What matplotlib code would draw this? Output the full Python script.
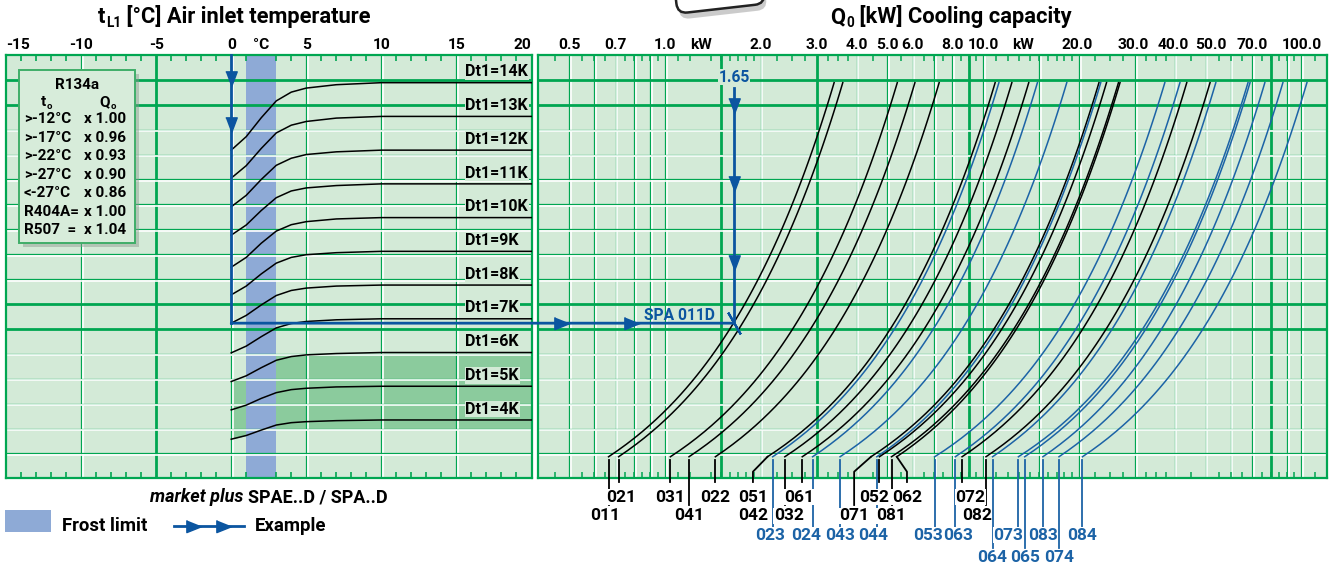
import logging
import numpy as np
import matplotlib
matplotlib.use('Agg')
import matplotlib.pyplot as plt
import matplotlib.transforms as mtransforms
from matplotlib import font_manager as fm
from matplotlib.font_manager import FontProperties
from matplotlib.textpath import TextPath
from matplotlib.text import Annotation
from matplotlib.lines import Line2D
from matplotlib.path import Path
from matplotlib.patches import Rectangle, FancyBboxPatch, ConnectionPatch
from matplotlib.ticker import FixedLocator, NullFormatter

logging.getLogger('matplotlib.font_manager').setLevel(logging.ERROR)

# air inlet side: Dt1 curves, value on the shared Dt1 scale [K]
t_air = [0, 1, 2, 3, 4, 5, 7, 10, 20]
dt1_levels = [14, 13, 12, 11, 10, 9, 8, 7, 6, 5, 4]
dt1_curves = [
    [12.00, 12.40, 12.96, 13.46, 13.72, 13.84, 13.94, 14.00, 14.00],
    [11.17, 11.54, 12.05, 12.51, 12.74, 12.85, 12.95, 13.00, 13.00],
    [10.32, 10.66, 11.13, 11.55, 11.76, 11.87, 11.95, 12.00, 12.00],
    [9.48, 9.78, 10.21, 10.59, 10.79, 10.88, 10.95, 11.00, 11.00],
    [8.53, 8.82, 9.24, 9.60, 9.79, 9.88, 9.96, 10.00, 10.00],
    [7.71, 7.97, 8.33, 8.65, 8.82, 8.90, 8.96, 9.00, 9.00],
    [6.87, 7.10, 7.41, 7.69, 7.84, 7.91, 7.97, 8.00, 8.00],
    [5.99, 6.19, 6.47, 6.73, 6.86, 6.92, 6.97, 7.00, 7.00],
    [5.14, 5.31, 5.55, 5.77, 5.88, 5.93, 5.97, 6.00, 6.00],
    [4.30, 4.44, 4.64, 4.81, 4.90, 4.94, 4.98, 5.00, 5.00],
    [3.43, 3.54, 3.70, 3.85, 3.92, 3.95, 3.98, 4.00, 4.00],
]
frost_limit = [1, 3]

# correction table (R134a)
to_rows = ['>-12°C', '>-17°C', '>-22°C', '>-27°C', '<-27°C', 'R404A=', 'R507  =']
qo_factor = ['x 1.00', 'x 0.96', 'x 0.93', 'x 0.90', 'x 0.86', 'x 1.00', 'x 1.04']

# cooling capacity lines, kW at the foot and at the head of each line
models = ['011', '021', '031', '041', '022', '051', '023', '032', '061', '024',
          '043', '071', '044', '052', '081', '062', '053', '063', '072', '082',
          '064', '073', '065', '083', '074', '084']
q_low = [0.665, 0.715, 1.04, 1.19, 1.44, 2.10, 2.18, 2.38, 2.70, 2.91,
         3.55, 4.44, 4.63, 4.72, 5.15, 5.35, 7.04, 8.17, 8.58, 10.2,
         10.7, 12.9, 13.5, 15.4, 17.3, 20.5]
q_high = [3.40, 3.62, 5.37, 6.10, 7.27, 10.9, 11.2, 12.3, 13.9, 14.8,
          18.3, 23.1, 23.4, 24.4, 26.6, 26.9, 37.2, 41.5, 43.6, 51.6,
          53.8, 67.9, 68.9, 76.7, 87.4, 104.0]
dt1_span = [2.91, 14.0]

# worked example
ex_t = 0
ex_dt1 = 8
ex_q = 1.65
ex_model = 'SPA 011D'

# ---- fonts: pick the narrowest bold face that is installed ---------------
def ink_width(s, fp, size=10):
    return TextPath((0, 0), s, size=size, prop=fp).get_extents().width * 100 / 72


names = {f.name for f in fm.fontManager.ttflist}
cands = [('Liberation Sans Narrow', 'normal'), ('DejaVu Sans', 'condensed'),
         ('Noto Sans', 'condensed'), ('Noto Sans', 'semi-condensed'),
         ('Open Sans', 'condensed'), ('Roboto', 'condensed'),
         ('Liberation Sans', 'normal'), ('Roboto', 'normal'), ('DejaVu Sans', 'normal')]
best = None
for fam, st in cands:
    if fam not in names:
        continue
    fp = FontProperties(family=fam, weight='bold', stretch=st)
    w = ink_width('Dt1=14K 100.0 Air inlet', fp)
    if best is None or w < best[0] - 0.5:
        best = (w, fam, st)
FAM, STRETCH = best[1], best[2]
plt.rcParams['font.family'] = [FAM, 'DejaVu Sans']
plt.rcParams['font.stretch'] = STRETCH
plt.rcParams['font.weight'] = 'bold'
FP = FontProperties(family=FAM, weight='bold', stretch=STRETCH)


def fit(s, px, cap):
    return min(cap, 10 * px / ink_width(s, FP))


TICK = fit('100.0', 38, 13.5)
DTL = fit('Dt1=14K', 62, 13)
LEAD = fit('021', 26, 14)
TITLE = fit('Air inlet temperature', 203, 16)
BOX = fit('>-12°C', 46, 11)
LEG = fit('Frost limit', 84, 14)
MARK = fit('market plus SPAE..D / SPA..D', 239, 14)
EXS = fit('SPA 011D', 70, 13.5)

# ---- layout ------------------------------------------------------------
W, H = 1335, 564
BG = '#d3ead7'
GREEN = '#00a651'
DARK_FILL = '#8bcb9d'
FROST = '#8eaad6'
BLUE = '#0b55a0'
CURVE_BLUE = '#1c63a6'


def fx(px):
    return px / W


def fy(py):
    return 1 - py / H


def u_of(py):
    # image row -> Dt1 scale
    return (554.9 - py) / 33.73


U_MIN, U_MAX = u_of(478.3), u_of(55)
du = (U_MAX - U_MIN) / 17

fig = plt.figure(figsize=(W / 100, H / 100), dpi=100)
axL = fig.add_axes([fx(6), fy(478.3), fx(531.5) - fx(6), fy(55) - fy(478.3)])
axR = fig.add_axes([fx(538.3), fy(478.3), fx(1326.7) - fx(538.3), fy(55) - fy(478.3)])
axR.set_xscale('log')

for ax in (axL, axR):
    ax.set_facecolor(BG)
    ax.set_yticks([])
    for s in ax.spines.values():
        s.set_color(GREEN)
        s.set_linewidth(1.6)
axL.set_xlim(-15, 20)
axR.set_xlim(0.4, 120)
axL.set_ylim(U_MIN, U_MAX)
axR.set_ylim(U_MIN, U_MAX)


def draw_grid(ax, xs, thick_x):
    tv = ax.get_xaxis_transform()
    th = ax.get_yaxis_transform()
    wv = mtransforms.offset_copy(tv, fig=fig, x=1.6, y=0, units='dots')
    wh = mtransforms.offset_copy(th, fig=fig, x=0, y=-1.6, units='dots')
    for x in xs:
        if x in thick_x:
            ax.add_artist(Line2D([x, x], [0, 1], transform=tv, color=GREEN, lw=2.0, zorder=1))
        else:
            ax.add_artist(Line2D([x, x], [0, 1], transform=tv, color=GREEN, lw=0.9, zorder=1))
            ax.add_artist(Line2D([x, x], [0, 1], transform=wv, color='white', lw=1.2, zorder=1))
    for k in range(1, 17):
        y = U_MIN + k * du
        if k in (6, 7, 15, 16):
            ax.add_artist(Line2D([0, 1], [y, y], transform=th, color=GREEN, lw=2.0, zorder=1))
        else:
            ax.add_artist(Line2D([0, 1], [y, y], transform=th, color=GREEN, lw=0.9, zorder=1))
            ax.add_artist(Line2D([0, 1], [y, y], transform=wh, color='white', lw=1.2, zorder=1))


def sub_text(x, y, main, sub, rest, size, **kw):
    # text with a lowered subscript, built from chained figure-level pieces
    a = fig.text(x, y, main, ha='left', va='baseline', fontsize=size, **kw)
    b = Annotation(sub, xy=(1, 0), xycoords=a, xytext=(0.6, -0.1 * size),
                   textcoords='offset points', ha='left', va='bottom',
                   fontsize=size * 0.62, annotation_clip=False, **kw)
    fig.add_artist(b)
    if rest:
        fig.add_artist(Annotation(rest, xy=(1, 0), xycoords=(b, a), xytext=(0, 0),
                                  textcoords='offset points', ha='left', va='bottom',
                                  fontsize=size, annotation_clip=False, **kw))


# ---- left panel ----------------------------------------------------------
axL.axvspan(frost_limit[0], frost_limit[1], color=FROST, lw=0, zorder=0.6)
axL.fill_between([frost_limit[1], 20], U_MIN + 2 * du, U_MIN + 5 * du,
                 color=DARK_FILL, lw=0, zorder=0.5)
axL.fill_between(t_air[:2], dt1_curves[-1][:2], U_MIN + 4 * du,
                 color=DARK_FILL, lw=0, zorder=0.5)
draw_grid(axL, [-10, -5, 0, 5, 10, 15], [-5])

for lvl, row in zip(dt1_levels, dt1_curves):
    axL.plot(t_air, row, color='black', lw=1.1, zorder=3)
    axL.text(15.6, lvl + 0.32, f'Dt1={lvl}K', ha='left', va='center', fontsize=DTL,
             zorder=4, bbox=dict(fc=BG, ec='none', pad=0.6))

axL.set_xticks([-15, -10, -5, 0, 2, 5, 10, 15, 20],
               ['-15', '-10', '-5', '0', '°C', '5', '10', '15', '20'])
axL.xaxis.set_minor_locator(FixedLocator(np.arange(-15, 21)))
axL.tick_params(which='major', length=0, top=True, bottom=False,
                labeltop=True, labelbottom=False, labelsize=TICK, pad=2)
axL.tick_params(which='minor', direction='in', length=4, width=1.2, color=GREEN,
                top=True, bottom=True)
ticks = axL.xaxis.get_major_ticks()
ticks[0].label2.set_horizontalalignment('left')
ticks[-1].label2.set_horizontalalignment('right')

# ---- right panel ---------------------------------------------------------
q_grid = [0.5, 0.6, 0.7, 0.8, 0.9, 1, 1.5, 2, 3, 4, 5, 6, 7, 8, 9, 10,
          15, 20, 30, 40, 50, 60, 70, 80, 90, 100]
draw_grid(axR, q_grid, [1.5, 3, 9, 80])

label_row = dict(zip(models, [2, 1, 1, 2, 1, 1, 3, 2, 1, 3, 3, 2, 3, 1, 2, 1,
                              3, 3, 1, 2, 4, 3, 4, 3, 4, 3]))
leader_foot = {'051': 1.89, '071': 3.93, '062': 5.76}
label_nudge = {'011': -3, '021': 3, '032': 4, '061': -3, '023': -3, '024': -6,
               '052': -5, '044': -4, '053': -7, '063': 3, '072': 8, '082': -9,
               '073': -10}
row_end = {1: u_of(482), 2: u_of(505), 3: u_of(527), 4: u_of(548)}
row_text = {1: u_of(497), 2: u_of(516), 3: u_of(535), 4: u_of(557)}


def put_label(q, row, text, colour, nudge):
    tr = mtransforms.offset_copy(axR.transData, fig=fig, x=nudge, y=0, units='dots')
    axR.text(q, row_text[row], text, transform=tr, ha='center', va='center',
             fontsize=LEAD, color=colour, zorder=6, clip_on=False,
             bbox=dict(fc='white', ec='none', pad=0.4))


for name, lo, hi in zip(models, q_low, q_high):
    colour = 'black' if name[-1] in '12' else CURVE_BLUE
    seg = Path([(lo, dt1_span[0]), (hi, dt1_span[1])]).interpolated(60).vertices
    axR.plot(seg[:, 0], seg[:, 1], color=colour, lw=1.1, zorder=3)
    row = label_row[name]
    if name in leader_foot:
        foot = leader_foot[name]
        xs, ys = [lo, foot, foot], [dt1_span[0], u_of(471.7), row_end[row]]
    else:
        foot = lo
        xs, ys = [lo, lo], [u_of(460), row_end[row]]
    axR.plot(xs, ys, color=colour, lw=1.3, zorder=5, clip_on=False)
    put_label(foot, row, name, colour, label_nudge.get(name, 0))
put_label(leader_foot['051'], 2, '042', 'black', 0)

q_ticks = [0.5, 0.7, 1.0, 1.3, 2, 3, 4, 5, 6, 8, 10, 13.3, 20, 30, 40, 50, 70, 100]
q_labels = ['0.5', '0.7', '1.0', 'kW', '2.0', '3.0', '4.0', '5.0', '6.0', '8.0',
            '10.0', 'kW', '20.0', '30.0', '40.0', '50.0', '70.0', '100.0']
axR.set_xticks(q_ticks, q_labels)
steps = np.r_[np.arange(1, 2, 0.1), np.arange(2, 4, 0.25), np.arange(4, 10, 0.5)]
q_minor = np.concatenate([d * steps for d in (0.1, 1, 10, 100)])
q_minor = q_minor[(q_minor > 0.41) & (q_minor < 118)]
axR.xaxis.set_minor_locator(FixedLocator(q_minor))
axR.xaxis.set_minor_formatter(NullFormatter())
axR.tick_params(which='major', length=0, top=True, bottom=False,
                labeltop=True, labelbottom=False, labelsize=TICK, pad=2)
axR.tick_params(which='minor', direction='in', length=4, width=1.1, color=GREEN,
                top=True, bottom=True)
# the printed scale sets a few labels slightly off their lines
label_shift = {'50.0': 5, '20.0': -2, '30.0': -2, '40.0': -2}
for tick, lab in zip(axR.xaxis.get_major_ticks(), q_labels):
    if lab in label_shift:
        t2 = tick.label2
        t2.set_transform(t2.get_transform() + mtransforms.ScaledTranslation(
            label_shift[lab] / 100, 0, fig.dpi_scale_trans))

# ---- worked example --------------------------------------------------------
ex_u = dt1_curves[dt1_levels.index(ex_dt1)][t_air.index(ex_t)]
head_down = [(-0.75, 1), (0.75, 1), (0, -1)]
head_right = [(-1, 0.8), (-1, -0.8), (1, 0)]

axL.plot([ex_t, ex_t], [U_MAX, ex_u], color=BLUE, lw=2, zorder=6, clip_on=False)
for f in (0.09, 0.26):
    axL.plot(ex_t, U_MAX + f * (ex_u - U_MAX), marker=head_down, ms=11,
             color=BLUE, zorder=7, clip_on=False)
fig.add_artist(ConnectionPatch(xyA=(ex_t, ex_u), coordsA=axL.transData,
                               xyB=(ex_q, ex_u), coordsB=axR.transData,
                               color=BLUE, lw=2, zorder=2))
q0 = axR.get_xlim()[0]
for f in (0.12, 0.476):
    axR.plot(q0 * (ex_q / q0) ** f, ex_u, marker=head_right, ms=11,
             color=BLUE, zorder=7)
u_top = u_of(88)
axR.plot([ex_q, ex_q], [u_top, ex_u], color=BLUE, lw=2, zorder=6)
for f in (0.075, 0.41, 0.745):
    axR.plot(ex_q, u_top + f * (ex_u - u_top), marker=head_down, ms=11,
             color=BLUE, zorder=7)
axR.text(ex_q, u_of(77), f'{ex_q:.2f}', ha='center', va='center', color=BLUE,
         fontsize=EXS, zorder=7, bbox=dict(fc=BG, ec='none', pad=0.5))
axR.plot(ex_q, ex_u, marker=(2, 2, 30), ms=18, mew=1.6, color=BLUE, zorder=7)
axR.annotate(ex_model, xy=(ex_q, ex_u), xytext=(-19, 8), textcoords='offset pixels',
             ha='right', va='center', color=BLUE, fontsize=EXS, zorder=7,
             annotation_clip=False)

# ---- titles and legends ------------------------------------------------------
sub_text(fx(98), fy(23), 't', 'L1', ' [°C] Air inlet temperature', TITLE)
sub_text(fx(830), fy(23), 'Q', '0', ' [kW] Cooling capacity', TITLE)

fig.add_artist(Rectangle((fx(23), fy(247)), fx(135) - fx(19), (243 - 70) / H,
                         transform=fig.transFigure, fc='#8a968c', ec='none',
                         alpha=0.45, zorder=2))
fig.add_artist(Rectangle((fx(19), fy(243)), fx(135) - fx(19), (243 - 70) / H,
                         transform=fig.transFigure, fc='#d7ecda', ec='#3fae68',
                         lw=1.4, zorder=2))
fig.text(fx(77), fy(85), 'R134a', ha='center', va='center', fontsize=BOX, zorder=3)
sub_text(fx(41), fy(106), 't', 'o', '', BOX, zorder=3)
sub_text(fx(99), fy(106), 'Q', 'o', '', BOX, zorder=3)
for i, (a, b) in enumerate(zip(to_rows, qo_factor)):
    yy = 119.3 + i * 18.5
    fig.text(fx(24), fy(yy), a, ha='left', va='center', fontsize=BOX, zorder=3)
    fig.text(fx(84), fy(yy), b, ha='left', va='center', fontsize=BOX, zorder=3)

fig.text(fx(243), fy(497), 'market plus', ha='right', va='center',
         fontsize=MARK, style='italic')
fig.text(fx(248), fy(497), 'SPAE..D / SPA..D', ha='left', va='center', fontsize=MARK)

fig.add_artist(Rectangle((fx(5), fy(532)), fx(51) - fx(5), 22 / H,
                         transform=fig.transFigure, fc=FROST, ec='none'))
fig.text(fx(62), fy(526), 'Frost limit', ha='left', va='center', fontsize=LEG)
fig.add_artist(Line2D([fx(174), fx(244)], [fy(526), fy(526)], color=BLUE, lw=2,
                      transform=fig.transFigure))
for xp in (194, 224):
    fig.add_artist(Line2D([fx(xp)], [fy(526)], marker=head_right, ms=11, color=BLUE,
                          transform=fig.transFigure))
fig.text(fx(255), fy(526), 'Example', ha='left', va='center', fontsize=LEG)

# cut-off badge at the top edge
rot = mtransforms.Affine2D().rotate_deg_around(717, 575, 6.5)
fig.add_artist(FancyBboxPatch((675, 552), 88, 50, boxstyle='round,pad=0,rounding_size=10',
                              transform=rot + mtransforms.Affine2D().translate(2, -3),
                              fc='#999999', ec='none', alpha=0.5, zorder=1))
fig.add_artist(FancyBboxPatch((675, 555), 88, 50, boxstyle='round,pad=0,rounding_size=10',
                              transform=rot, fc='white', ec='#222222', lw=1.8, zorder=1.1))

fig.savefig('out.png', dpi=100, facecolor='white')
